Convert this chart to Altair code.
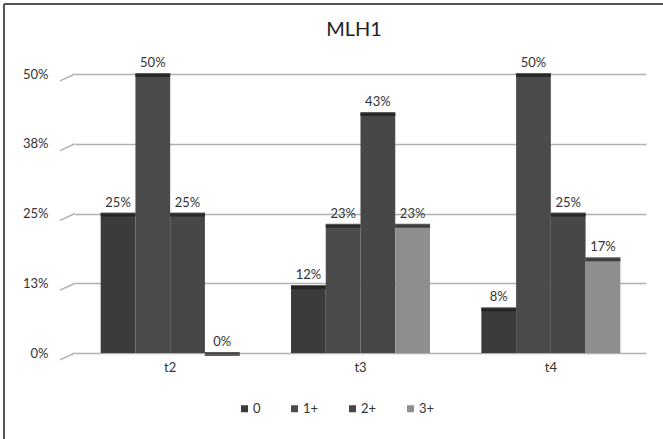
import altair as alt
import pandas as pd

# Share of cases per MLH1 staining score at each time point
time_points = ["t2", "t3", "t4"]
scores = ["0", "1+", "2+", "3+"]
t2_values = [0.25, 0.50, 0.25, 0.00]
t3_values = [0.12, 0.23, 0.43, 0.23]
t4_values = [0.08, 0.50, 0.25, 0.17]
grid_values = [0.0, 0.125, 0.25, 0.375, 0.5]
score_colors = ["#3b3b3b", "#4b4b4b", "#474747", "#8e8e8e"]
chart_title = "MLH1"

rows = []
for tp, vals in zip(time_points, [t2_values, t3_values, t4_values]):
    for s, v in zip(scores, vals):
        rows.append({"time": tp, "score": s, "share": v})
df = pd.DataFrame(rows)
grid_df = pd.DataFrame({"v": grid_values})

FONT = "Lato"

x_enc = alt.X(
    "time:N",
    sort=time_points,
    scale=alt.Scale(paddingInner=0.27, paddingOuter=0.135),
    axis=alt.Axis(title=None, domain=False, ticks=False, labelAngle=0,
                  labelPadding=8, labelFontSize=13, labelColor="#333333",
                  labelFont=FONT),
)
xo_enc = alt.XOffset("score:N", sort=scores,
                     scale=alt.Scale(paddingInner=0, paddingOuter=0))
y_scale = alt.Scale(domain=[0, 0.5])

base = alt.Chart(df)

bars = base.mark_bar(stroke=None).encode(
    x=x_enc,
    xOffset=xo_enc,
    y=alt.Y(
        "share:Q",
        scale=y_scale,
        axis=alt.Axis(title=None, values=grid_values, format=".0%",
                      domain=False, ticks=False, labelPadding=27,
                      labelFontSize=13, labelColor="#333333", labelFont=FONT,
                      grid=True, gridColor="#b0b0b0", gridWidth=1.6),
    ),
    color=alt.Color(
        "score:N",
        sort=scores,
        scale=alt.Scale(domain=scores, range=score_colors),
        legend=alt.Legend(title=None, orient="none", legendX=163, legendY=328,
                          direction="horizontal", symbolType="square",
                          symbolSize=49, symbolStrokeWidth=0,
                          labelFontSize=13, labelColor="#333333",
                          labelFont=FONT, columnPadding=27, labelOffset=2),
    ),
)

# dark top face of each column
caps = base.mark_tick(thickness=4, size=35, color="#1c1c1c", yOffset=1).encode(
    x=alt.X("time:N", sort=time_points),
    xOffset=xo_enc,
    y=alt.Y("share:Q", scale=y_scale),
)

labels = base.mark_text(baseline="alphabetic", dy=-7, fontSize=13,
                        color="#333333", font=FONT).encode(
    x=alt.X("time:N", sort=time_points),
    xOffset=xo_enc,
    y=alt.Y("share:Q", scale=y_scale),
    text=alt.Text("share:Q", format=".0%"),
)

# short slanted stubs at the left end of each gridline
stubs = alt.Chart(grid_df).transform_calculate(
    v2="datum.v - 0.0125"
).mark_rule(color="#b0b0b0", strokeWidth=1.4).encode(
    x=alt.value(-15), x2=alt.value(0),
    y=alt.Y("v2:Q", scale=y_scale), y2="v:Q",
)

# chart heading
heading = alt.Chart(pd.DataFrame({"t": [chart_title]})).mark_text(
    fontSize=20, font=FONT, color="#222222", baseline="middle", align="center"
).encode(x=alt.value(279), y=alt.value(-44), text="t:N")

# frame lines along the top and left edges
frame_top = alt.Chart(grid_df).mark_rule(color="#555555", strokeWidth=2).encode(
    x=alt.value(-71), x2=alt.value(588), y=alt.value(-70)
)
frame_left = alt.Chart(grid_df).mark_rule(color="#555555", strokeWidth=2).encode(
    x=alt.value(-71), y=alt.value(-70), y2=alt.value(366)
)

chart = alt.layer(stubs, bars, caps, labels, heading, frame_top, frame_left).properties(
    width=571,
    height=279,
    autosize=alt.AutoSizeParams(type="none"),
    padding={"left": 75, "top": 74, "right": 17, "bottom": 86},
    background="white",
).configure_view(stroke=None)

chart.save("out.html", embed_options={"renderer": "svg", "actions": False})
